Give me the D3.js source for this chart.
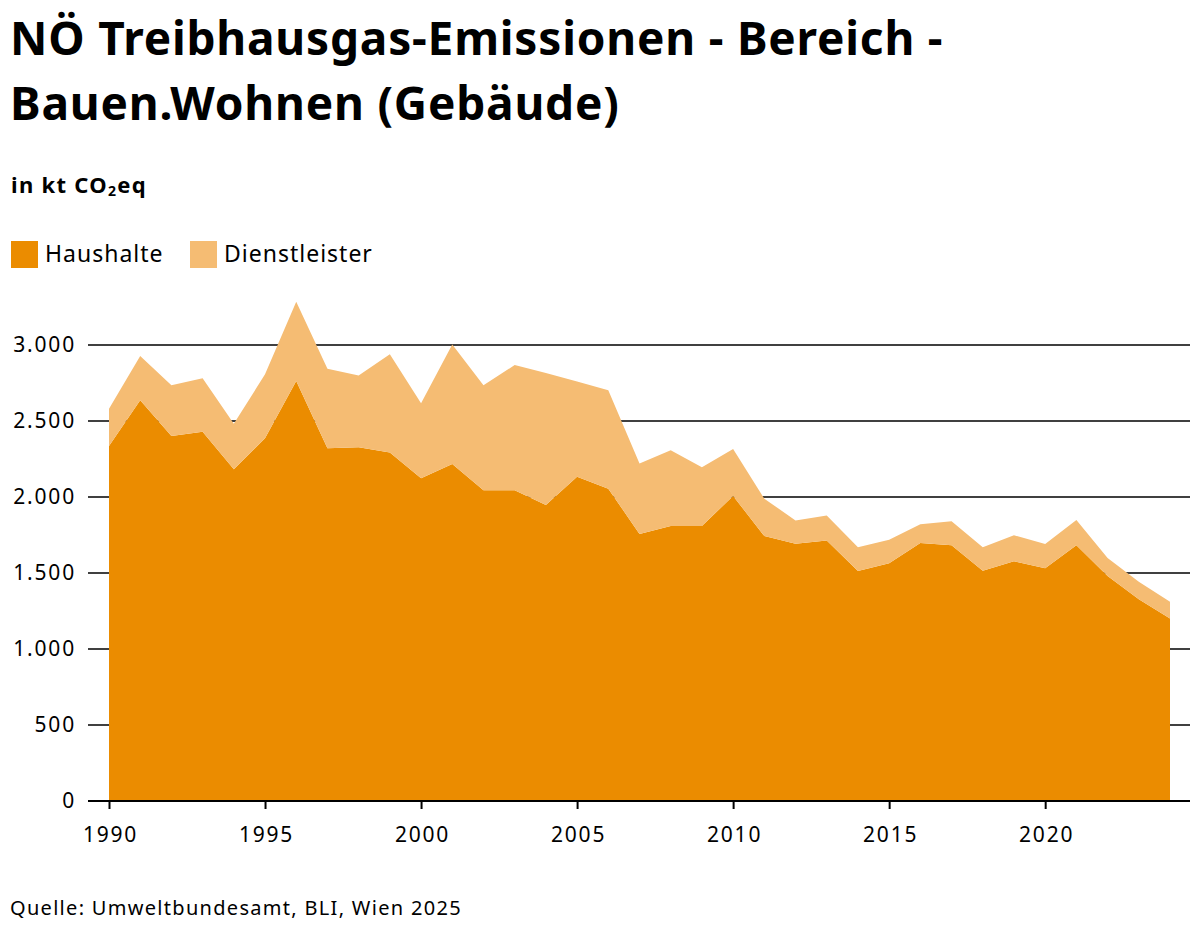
<!DOCTYPE html>
<html lang="de">
<head>
    <meta charset="UTF-8">
    <title>NÖ Treibhausgas-Emissionen</title>
    <style>
        body { margin: 0; background: #fff; font-family: "Noto Sans", Lato, sans-serif; }
        .grid line { stroke: #000; stroke-width: 1.6; }
        .axis text { font-family: "Noto Sans", sans-serif; font-size: 21px; letter-spacing: 1.8px; fill: #000; }
        .axis path, .axis line { stroke: #000; stroke-width: 2; }
    </style>
</head>
<body>
    <div id="chart"></div>
    <script src="https://cdn.jsdelivr.net/npm/d3@7"></script>
    <script>

        var years = d3.range(1990, 2025);

        var haushalte = [2336, 2636, 2401, 2430, 2182, 2386, 2763, 2320, 2327, 2292,
                         2123, 2217, 2044, 2044, 1947, 2134, 2055, 1757, 1809, 1809,
                         2007, 1743, 1693, 1713, 1513, 1564, 1697, 1682, 1515, 1577,
                         1531, 1682, 1480, 1327, 1200];

        var gesamt = [2581, 2928, 2735, 2781, 2482, 2807, 3285, 2844, 2800, 2939,
                      2616, 3004, 2735, 2868, 2815, 2760, 2702, 2221, 2307, 2195,
                      2316, 1989, 1846, 1879, 1669, 1719, 1820, 1840, 1669, 1748,
                      1691, 1849, 1599, 1443, 1311];

        var dienstleister = gesamt.map((v, i) => v - haushalte[i]);

        var seriesNames = ["Haushalte", "Dienstleister"];
        var colors = ["#eb8c00", "#f5bc73"];
        var yTicks = [0, 500, 1000, 1500, 2000, 2500, 3000];
        var xTicks = [1990, 1995, 2000, 2005, 2010, 2015, 2020];

        var width = 1200, height = 934;

        var svg = d3.select("#chart").append("svg")
            .attr("width", width)
            .attr("height", height);

        // title
        var title = svg.append("g").attr("font-weight", "bold").attr("font-size", 46)
            .attr("letter-spacing", 0.8);
        title.append("text").attr("x", 10).attr("y", 55).text("NÖ Treibhausgas-Emissionen - Bereich -");
        title.append("text").attr("x", 10).attr("y", 120).text("Bauen.Wohnen (Gebäude)");

        var sub = svg.append("text")
            .attr("x", 11).attr("y", 193)
            .attr("font-size", 22).attr("font-weight", "bold").attr("letter-spacing", 1.3);
        sub.append("tspan").text("in kt CO");
        sub.append("tspan").attr("font-size", 14).attr("dy", 3).text("2");
        sub.append("tspan").attr("dy", -3).text("eq");

        // legend
        var legend = svg.append("g").selectAll("g")
            .data(seriesNames)
            .enter().append("g")
            .attr("transform", (d, i) => "translate(" + [11, 190][i] + ",241)");
        legend.append("rect").attr("width", 27).attr("height", 27).attr("fill", (d, i) => colors[i]);
        legend.append("text").attr("x", 34).attr("y", 21).attr("font-size", 23)
            .attr("letter-spacing", 1).text(d => d);

        // scales
        var x = d3.scaleLinear().domain([1990, 2024]).range([109, 1170]);
        var y = d3.scaleLinear().domain([0, 3000]).range([801, 345]);

        svg.append("g").attr("class", "grid")
            .selectAll("line")
            .data(yTicks.slice(1))
            .enter().append("line")
            .attr("x1", 88).attr("x2", 1190)
            .attr("y1", d => y(d)).attr("y2", d => y(d));

        var table = years.map((yr, i) => ({ year: yr, Haushalte: haushalte[i], Dienstleister: dienstleister[i] }));
        var stack = d3.stack().keys(seriesNames)(table);

        var area = d3.area()
            .x(d => x(d.data.year))
            .y0(d => y(d[0]))
            .y1(d => y(d[1]));

        svg.append("g").selectAll("path")
            .data(stack)
            .enter().append("path")
            .attr("fill", (d, i) => colors[i])
            .attr("d", area);

        // y axis labels
        svg.append("g").attr("class", "axis")
            .attr("transform", "translate(86,0)")
            .call(d3.axisLeft(y).tickValues(yTicks).tickSize(0).tickPadding(10)
                .tickFormat(d => d3.format(",")(d).replace(",", ".")))
            .call(g => g.select(".domain").remove());

        // x axis
        var xAxis = svg.append("g").attr("class", "axis")
            .attr("transform", "translate(0,801)")
            .call(d3.axisBottom(x).tickValues(xTicks).tickSize(8).tickPadding(18).tickFormat(d3.format("d")));
        xAxis.select(".domain").remove();
        xAxis.selectAll(".tick text").attr("dx", 1);
        xAxis.append("line").attr("x1", 88).attr("x2", 1190).attr("stroke", "#000").attr("stroke-width", 2.5);

        svg.append("text")
            .attr("x", 10).attr("y", 915)
            .attr("font-size", 20).attr("letter-spacing", 1.3)
            .text("Quelle: Umweltbundesamt, BLI, Wien 2025");
    </script>
</body>
</html>
